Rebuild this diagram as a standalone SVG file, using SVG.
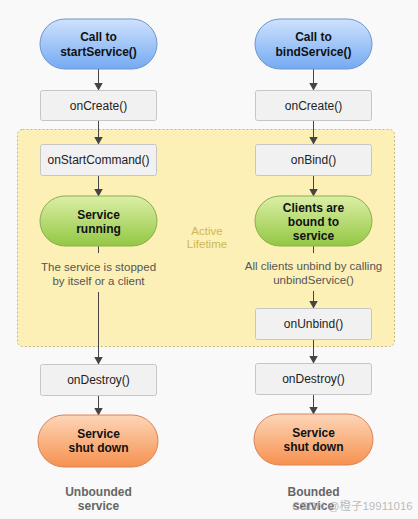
<svg xmlns="http://www.w3.org/2000/svg" width="418" height="519" viewBox="0 0 418 519">
<defs>
<linearGradient id="gBlue" x1="0" y1="0" x2="0" y2="1"><stop offset="0" stop-color="#cfe2fd"/><stop offset="1" stop-color="#74aaf2"/></linearGradient>
<linearGradient id="gGreen" x1="0" y1="0" x2="0" y2="1"><stop offset="0" stop-color="#dcefa6"/><stop offset="1" stop-color="#93c743"/></linearGradient>
<linearGradient id="gOrange" x1="0" y1="0" x2="0" y2="1"><stop offset="0" stop-color="#fdd6b8"/><stop offset="1" stop-color="#f6914f"/></linearGradient>
<marker id="arr" viewBox="0 0 8 9" refX="7.5" refY="4.5" markerWidth="8" markerHeight="9" orient="auto" markerUnits="userSpaceOnUse"><path d="M0,0 L8,4.5 L0,9 Z" fill="#444"/></marker>
</defs>
<style>
.box{fill:#f1f1f1;stroke:#c6c6c6;stroke-width:1}
.blue{fill:url(#gBlue);stroke:#6e96cf;stroke-width:1}
.green{fill:url(#gGreen);stroke:#8cae4c;stroke-width:1}
.orange{fill:url(#gOrange);stroke:#d88458;stroke-width:1}
.t{font-family:"Liberation Sans",Arial,sans-serif;font-size:12px;fill:#222;text-anchor:middle}
.b{font-weight:bold;fill:#111}
.d{font-size:11.5px;fill:#555}
.lab{font-weight:bold;fill:#666}
.act{fill:#cdb852;font-size:11.5px}
.c{stroke:#444;stroke-width:1;fill:none}
</style>
<rect x="0" y="0" width="418" height="519" fill="#f9f9f9"/>
<g id="active-lifetime">
<rect x="17.5" y="129.5" width="377" height="217" rx="5" fill="#fdf0b6" stroke="#c9b77a" stroke-dasharray="2,2"/>
<text class="t act" x="207" y="235">Active</text>
<text class="t act" x="207" y="248">Lifetime</text>
</g>
<g id="connectors">
<line class="c" x1="98.5" y1="69" x2="98.5" y2="90" marker-end="url(#arr)"/>
<line class="c" x1="98.5" y1="120" x2="98.5" y2="144" marker-end="url(#arr)"/>
<line class="c" x1="98.5" y1="176" x2="98.5" y2="196" marker-end="url(#arr)"/>
<line class="c" x1="98.5" y1="246" x2="98.5" y2="253"/>
<line class="c" x1="98.5" y1="292" x2="98.5" y2="364" marker-end="url(#arr)"/>
<line class="c" x1="98.5" y1="395" x2="98.5" y2="415" marker-end="url(#arr)"/>
<line class="c" x1="313.5" y1="69" x2="313.5" y2="90" marker-end="url(#arr)"/>
<line class="c" x1="313.5" y1="120" x2="313.5" y2="144" marker-end="url(#arr)"/>
<line class="c" x1="313.5" y1="176" x2="313.5" y2="196" marker-end="url(#arr)"/>
<line class="c" x1="313.5" y1="246" x2="313.5" y2="253"/>
<line class="c" x1="313.5" y1="291" x2="313.5" y2="308" marker-end="url(#arr)"/>
<line class="c" x1="313.5" y1="339" x2="313.5" y2="363" marker-end="url(#arr)"/>
<line class="c" x1="313.5" y1="394" x2="313.5" y2="414" marker-end="url(#arr)"/>
</g>
<g id="start-call">
<rect class="blue" x="40" y="19" width="117" height="50" rx="25"/>
<text class="t b" x="98.5" y="41">Call to</text>
<text class="t b" x="98.5" y="56">startService()</text>
</g>
<g id="bind-call">
<rect class="blue" x="255" y="19" width="117" height="50" rx="25"/>
<text class="t b" x="313.5" y="41">Call to</text>
<text class="t b" x="313.5" y="56">bindService()</text>
</g>
<g id="oncreate-left">
<rect class="box" x="40.5" y="90.5" width="116" height="30" rx="2"/>
<text class="t" x="98.5" y="110">onCreate()</text>
</g>
<g id="oncreate-right">
<rect class="box" x="255.5" y="90.5" width="116" height="30" rx="2"/>
<text class="t" x="313.5" y="110">onCreate()</text>
</g>
<g id="onstartcommand">
<rect class="box" x="40.5" y="144.5" width="116" height="31" rx="2"/>
<text class="t" x="98.5" y="164">onStartCommand()</text>
</g>
<g id="onbind">
<rect class="box" x="255.5" y="144.5" width="116" height="31" rx="2"/>
<text class="t" x="313.5" y="164">onBind()</text>
</g>
<g id="service-running">
<rect class="green" x="40" y="196" width="117" height="50" rx="25"/>
<text class="t b" x="98.5" y="219">Service</text>
<text class="t b" x="98.5" y="233">running</text>
</g>
<g id="clients-bound">
<rect class="green" x="255" y="196" width="117" height="50" rx="25"/>
<text class="t b" x="313.5" y="212">Clients are</text>
<text class="t b" x="313.5" y="226">bound to</text>
<text class="t b" x="313.5" y="240">service</text>
</g>
<g id="stop-note">
<text class="t d" x="98.5" y="271">The service is stopped</text>
<text class="t d" x="98.5" y="285">by itself or a client</text>
</g>
<g id="unbind-note">
<text class="t d" x="313.5" y="270">All clients unbind by calling</text>
<text class="t d" x="313.5" y="284">unbindService()</text>
</g>
<g id="onunbind">
<rect class="box" x="255.5" y="308.5" width="116" height="31" rx="2"/>
<text class="t" x="313.5" y="328">onUnbind()</text>
</g>
<g id="ondestroy-left">
<rect class="box" x="40.5" y="364.5" width="116" height="31" rx="2"/>
<text class="t" x="98.5" y="384">onDestroy()</text>
</g>
<g id="ondestroy-right">
<rect class="box" x="255.5" y="363.5" width="116" height="31" rx="2"/>
<text class="t" x="313.5" y="383">onDestroy()</text>
</g>
<g id="shutdown-left">
<rect class="orange" x="38" y="415" width="120" height="52" rx="26"/>
<text class="t b" x="98.5" y="438">Service</text>
<text class="t b" x="98.5" y="452">shut down</text>
</g>
<g id="shutdown-right">
<rect class="orange" x="254" y="414" width="119" height="51" rx="25.5"/>
<text class="t b" x="313.5" y="437">Service</text>
<text class="t b" x="313.5" y="451">shut down</text>
</g>
<g id="label-unbounded">
<text class="t lab" x="98.5" y="496">Unbounded</text>
<text class="t lab" x="98.5" y="510">service</text>
</g>
<g id="label-bounded">
<text class="t lab" x="313.5" y="496">Bounded</text>
<text class="t lab" x="313.5" y="510">service</text>
</g>
<text x="292" y="510" font-family="'Liberation Sans','Noto Sans CJK SC',sans-serif" font-size="11.5" fill="#aaa" fill-opacity="0.8">CSDN @橙子19911016</text>
</svg>
